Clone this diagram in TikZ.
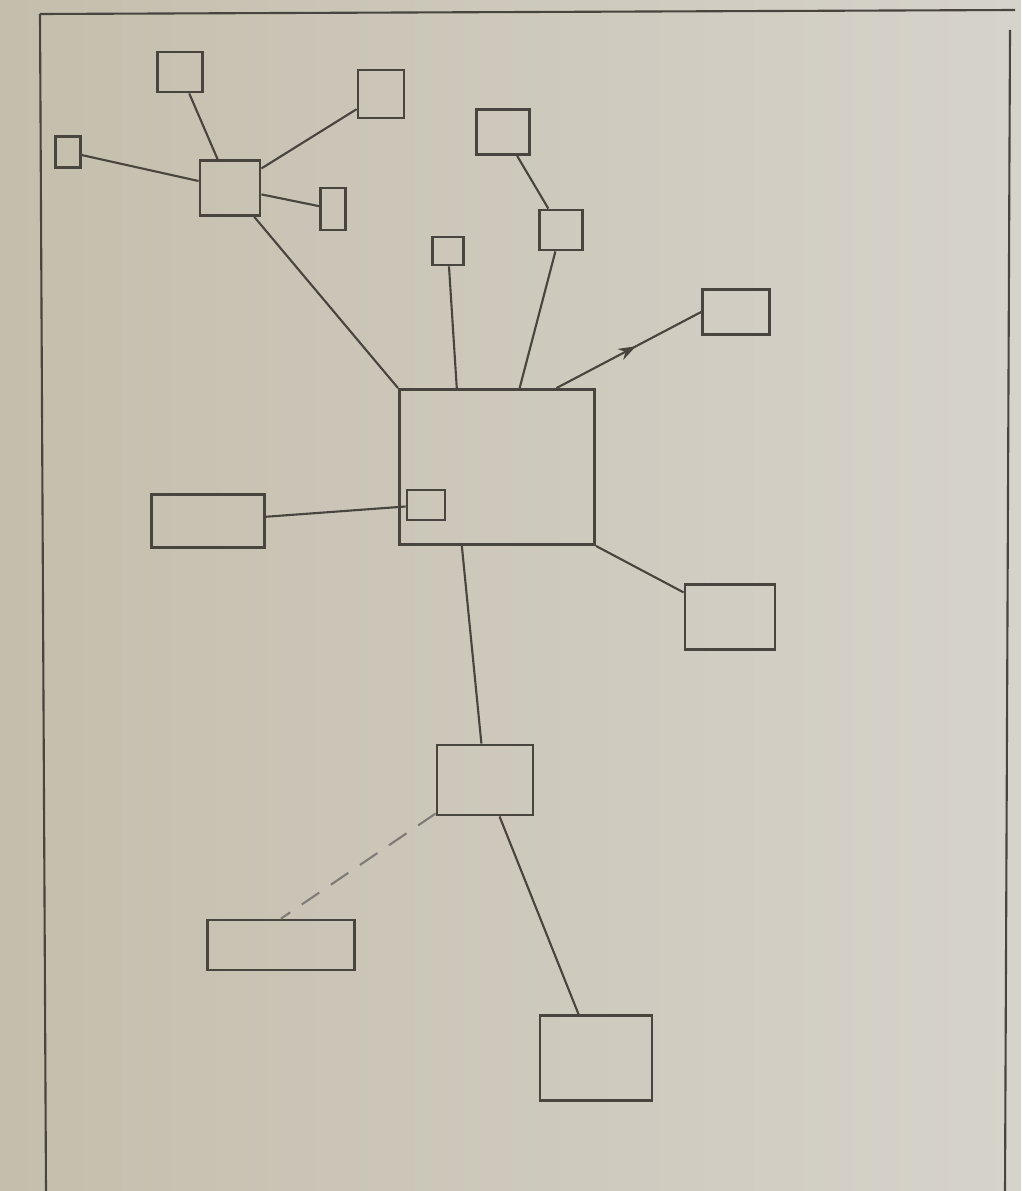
\documentclass[tikz,border=0pt]{standalone}
\usetikzlibrary{arrows.meta,decorations.markings}
\definecolor{paperL}{RGB}{196,190,172}
\definecolor{paperR}{RGB}{214,211,203}
\definecolor{pencil}{RGB}{72,68,62}

\tikzset{
  sketchbox/.style={draw=pencil, line width=0.8pt, inner sep=0pt},
  sketchline/.style={draw=pencil, line width=0.6pt},
  midarrow/.style={postaction={decorate}, decoration={markings,
    mark=at position 0.55 with {\arrow[pencil]{Stealth[length=5pt,width=3.5pt]}}}}
}

\begin{document}
\begin{tikzpicture}[x=0.01cm, y=-0.01cm]
  \useasboundingbox (0,0) rectangle (1021,1191);
  \shade[left color=paperL, right color=paperR] (0,0) rectangle (1021,1191);

  % Blattrand
  \draw[sketchline] (40,14) -- (1015,10);
  \draw[sketchline] (40,14) -- (46,1191);
  \draw[sketchline] (1010,30) -- (1005,1191);

  % Mitte
  \node[sketchbox, minimum width=1.95cm, minimum height=1.55cm] (center) at (497,467) {};
  \node[sketchbox, minimum width=0.38cm, minimum height=0.30cm] (inner) at (426,505) {};

  % Kaestchen rundherum
  \node[sketchbox, minimum width=1.13cm, minimum height=0.53cm] (left)  at (208,521) {};
  \node[sketchbox, minimum width=0.90cm, minimum height=0.65cm] (right) at (730,617) {};
  \node[sketchbox, minimum width=0.67cm, minimum height=0.45cm] (upright) at (736,312) {};
  \node[sketchbox, minimum width=0.31cm, minimum height=0.28cm] (topA) at (448,251) {};
  \node[sketchbox, minimum width=0.43cm, minimum height=0.40cm] (topB) at (561,230) {};
  \node[sketchbox, minimum width=0.53cm, minimum height=0.45cm] (topC) at (503,132) {};

  % Gruppe oben links
  \node[sketchbox, minimum width=0.60cm, minimum height=0.55cm] (hub)  at (230,188) {};
  \node[sketchbox, minimum width=0.45cm, minimum height=0.40cm] (hubA) at (180,72) {};
  \node[sketchbox, minimum width=0.46cm, minimum height=0.48cm] (hubB) at (381,94) {};
  \node[sketchbox, minimum width=0.25cm, minimum height=0.31cm] (hubC) at (68,152) {};
  \node[sketchbox, minimum width=0.25cm, minimum height=0.42cm] (hubD) at (333,209) {};

  % Gruppe unten
  \node[sketchbox, minimum width=0.96cm, minimum height=0.70cm] (low)  at (485,780) {};
  \node[sketchbox, minimum width=1.47cm, minimum height=0.50cm] (lowA) at (281,945) {};
  \node[sketchbox, minimum width=1.12cm, minimum height=0.85cm] (lowB) at (596,1058) {};

  % Verbindungen
  \draw[sketchline] (left) -- (inner);
  \draw[sketchline] (center.south east) -- (right);
  \draw[sketchline, midarrow] (center.53) -- (upright.west);
  \draw[sketchline] (center.117) -- (topA);
  \draw[sketchline] (center.74) -- (topB);
  \draw[sketchline] (topB) -- (topC);
  \draw[sketchline] (center.north west) -- (hub);
  \draw[sketchline] (hub) -- (hubA);
  \draw[sketchline] (hub) -- (hubB);
  \draw[sketchline] (hub) -- (hubC);
  \draw[sketchline] (hub) -- (hubD);
  \draw[sketchline] (center.246) -- (low);
  \draw[sketchline, pencil!70, dash pattern=on 6pt off 4pt] (low) -- (lowA.north);
  \draw[sketchline] (low) -- (lowB);
\end{tikzpicture}
\end{document}
